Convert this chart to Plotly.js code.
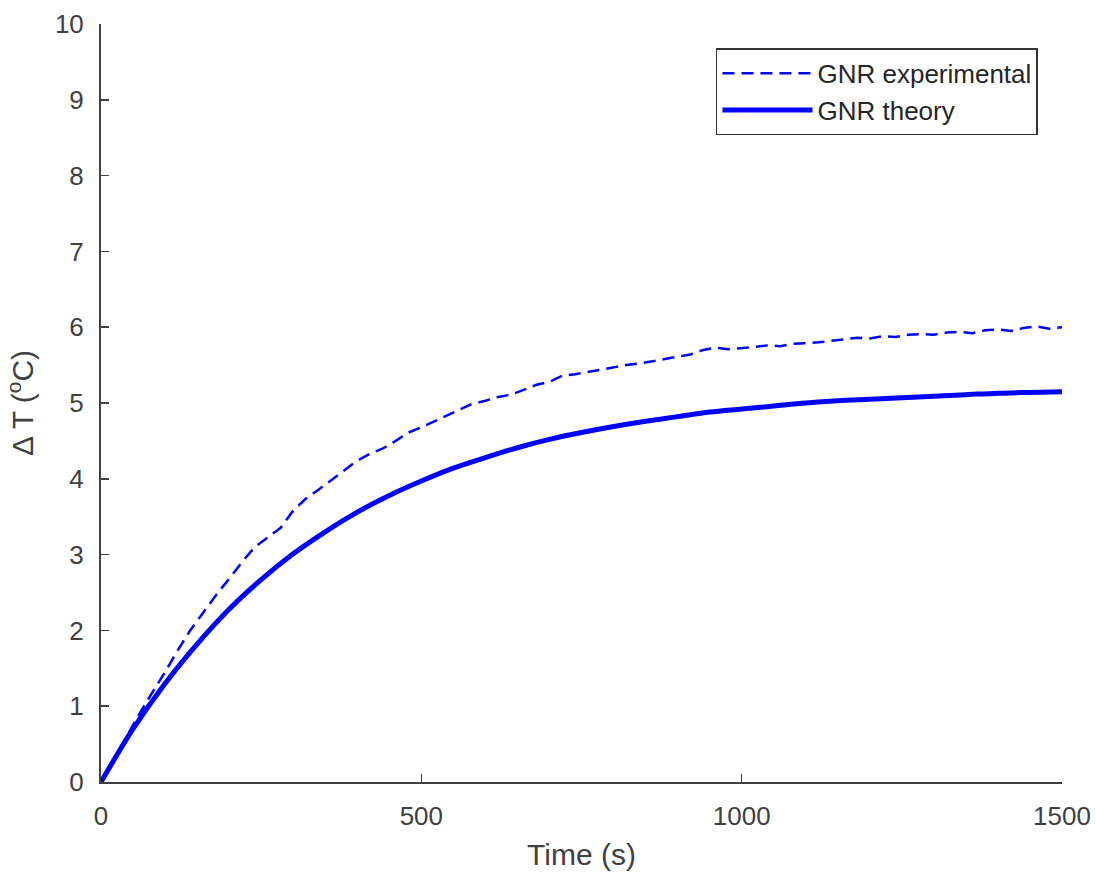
<!DOCTYPE html>
<html>
<head>
<meta charset="utf-8">
<script src="https://cdn.plot.ly/plotly-3.0.1.min.js"></script>
<style>html,body{margin:0;padding:0;background:#fff}#chart{width:1096px;height:874px}</style>
</head>
<body>
<div id="chart"></div>
<script>
// Time axis (s)
const timeTheory = [0,50,100,150,200,250,300,350,400,450,500,550,600,650,700,750,800,850,900,950,1000,1050,1100,1150,1200,1250,1300,1350,1400,1450,1500];
const tempTheory = [0,0.70,1.30,1.82,2.28,2.67,3.01,3.30,3.56,3.78,3.97,4.14,4.28,4.41,4.52,4.61,4.69,4.76,4.82,4.88,4.92,4.96,5.00,5.03,5.05,5.07,5.09,5.11,5.13,5.14,5.15];

const timeExp = [0,20,40,60,80,100,120,140,160,180,200,220,240,260,280,300,320,340,360,380,400,420,440,460,480,500,520,540,560,580,600,620,640,660,680,700,720,740,760,780,800,820,840,860,880,900,920,940,960,980,1000,1020,1040,1060,1080,1100,1120,1140,1160,1180,1200,1220,1240,1260,1280,1300,1320,1340,1360,1380,1400,1420,1440,1460,1480,1500];
const tempExp = [0,0.30,0.60,0.90,1.18,1.45,1.74,2.01,2.24,2.47,2.68,2.90,3.10,3.22,3.35,3.58,3.74,3.86,3.99,4.12,4.24,4.33,4.40,4.50,4.61,4.68,4.76,4.84,4.92,4.99,5.03,5.08,5.11,5.18,5.24,5.28,5.36,5.38,5.41,5.44,5.47,5.50,5.52,5.55,5.58,5.60,5.64,5.70,5.73,5.71,5.72,5.74,5.76,5.75,5.78,5.79,5.80,5.82,5.84,5.86,5.85,5.88,5.87,5.90,5.91,5.90,5.93,5.94,5.92,5.96,5.97,5.95,5.99,6.01,5.98,6.00];

const xTicks = [0,500,1000,1500];
const yTicks = [0,1,2,3,4,5,6,7,8,9,10];
const seriesNames = ['GNR experimental','GNR theory'];

const axisColor = '#404040';
const fontFam = '"Liberation Sans", Arial, sans-serif';

const traces = [
  {x: timeExp, y: tempExp, name: seriesNames[0], type: 'scatter', mode: 'lines',
   line: {color: '#0000ff', width: 2.5, dash: '12px,7px'}, cliponaxis: false},
  {x: timeTheory, y: tempTheory, name: seriesNames[1], type: 'scatter', mode: 'lines',
   line: {color: '#0000ff', width: 5, shape: 'spline'}, cliponaxis: false}
];

const layout = {
  width: 1096, height: 874,
  margin: {l: 101, r: 34, t: 24, b: 92},
  paper_bgcolor: '#fff', plot_bgcolor: '#fff',
  font: {family: fontFam, color: axisColor, size: 26},
  showlegend: true,
  legend: {x: 0.975, y: 0.968, xanchor: 'right', yanchor: 'top',
           bordercolor: '#333', borderwidth: 1.5, bgcolor: '#fff',
           font: {size: 26, color: '#262626', family: fontFam},
           itemwidth: 90, tracegroupgap: 0},
  xaxis: {range: [0, 1500], tickvals: xTicks, ticktext: xTicks.map(String),
          showgrid: false, zeroline: false, showline: true, linecolor: axisColor, linewidth: 2,
          ticks: 'inside', ticklen: 8, tickwidth: 1.5, tickcolor: axisColor,
          tickfont: {size: 26, color: axisColor, family: fontFam},
          ticklabelstandoff: 10,
          title: {text: 'Time (s)', font: {size: 30, color: axisColor, family: fontFam}, standoff: 14}},
  yaxis: {range: [0, 10], tickvals: yTicks, ticktext: yTicks.map(String),
          showgrid: false, zeroline: false, showline: true, linecolor: axisColor, linewidth: 2,
          ticks: 'inside', ticklen: 8, tickwidth: 1.5, tickcolor: axisColor,
          tickfont: {size: 26, color: axisColor},
          ticklabelstandoff: 10,
          title: {text: 'Δ T (<sup>o</sup>C)', font: {size: 30, color: axisColor}, standoff: 12}}
};

Plotly.newPlot('chart', traces, layout, {displayModeBar: false, staticPlot: true});
</script>
</body>
</html>
